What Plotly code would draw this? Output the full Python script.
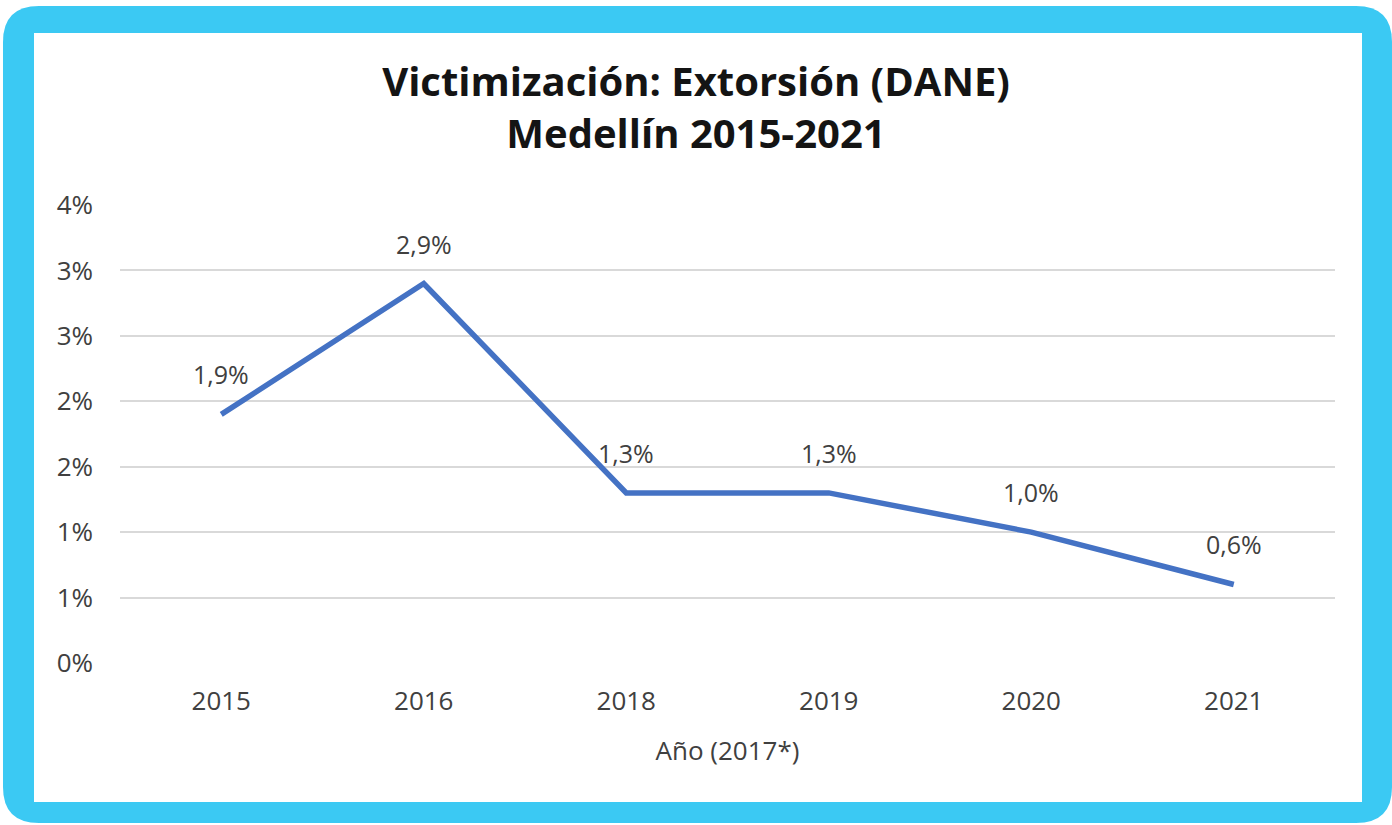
import plotly.graph_objects as go

# datos
years = ['2015', '2016', '2018', '2019', '2020', '2021']
extorsion = [0.019, 0.029, 0.013, 0.013, 0.010, 0.006]
labels = ['1,9%', '2,9%', '1,3%', '1,3%', '1,0%', '0,6%']
y_ticks = [0, 0.005, 0.01, 0.015, 0.02, 0.025, 0.03, 0.035]
y_ticktext = ['0%', '1%', '1%', '2%', '2%', '3%', '3%', '4%']

FONT = 'Open Sans'
GRAY = '#404040'
BLUE = '#4472C4'
FRAME = '#3BC9F3'

fig = go.Figure()
fig.add_trace(go.Scatter(x=years, y=extorsion, mode='lines',
                         line=dict(color=BLUE, width=5.5), showlegend=False,
                         hoverinfo='skip'))

# etiquetas de datos encima de cada punto (x por indice de categoria)
for i, (y, t) in enumerate(zip(extorsion, labels)):
    fig.add_annotation(x=i, y=y, text=t, showarrow=False, yshift=40,
                       font=dict(family=FONT, size=25, color=GRAY))

# marco azul redondeado y fondo blanco interior
r = 36
x0, y0, x1, y1 = 3, 6, 1392, 823
W, H = 1392, 825
ml, mr, mt, mb = 120, 57, 205, 162
pw, ph = W - ml - mr, H - mt - mb


def px2paper(px, py):
    return (px - ml) / pw, (H - mb - py) / ph


def rounded_path(x0, y0, x1, y1, r):
    pts = [
        ('M', x0 + r, y0), ('L', x1 - r, y0), ('Q', x1, y0, x1, y0 + r),
        ('L', x1, y1 - r), ('Q', x1, y1, x1 - r, y1), ('L', x0 + r, y1),
        ('Q', x0, y1, x0, y1 - r), ('L', x0, y0 + r), ('Q', x0, y0, x0 + r, y0),
    ]
    out = ''
    for p in pts:
        cmd, coords = p[0], p[1:]
        s = []
        for i in range(0, len(coords), 2):
            a, b = px2paper(coords[i], coords[i + 1])
            s.append(f'{a:.5f},{b:.5f}')
        out += cmd + ' '.join(s) + ' '
    return out + 'Z'


fig.add_shape(type='path', xref='paper', yref='paper', layer='below',
              path=rounded_path(x0, y0, x1, y1, r), fillcolor=FRAME, line_width=0)
ix0, iy0 = px2paper(34, 33)
ix1, iy1 = px2paper(1362, 802)
fig.add_shape(type='rect', xref='paper', yref='paper', layer='below',
              x0=ix0, y0=iy1, x1=ix1, y1=iy0, fillcolor='white', line_width=0)

fig.update_layout(
    width=W, height=H,
    margin=dict(l=ml, r=mr, t=mt, b=mb),
    paper_bgcolor='white', plot_bgcolor='rgba(0,0,0,0)',
    title=dict(text='<b>Victimización: Extorsión (DANE)</b><br><b>Medellín 2015-2021</b>',
               x=0.5, xanchor='center', y=1 - 96 / H, yanchor='middle',
               font=dict(family=FONT, size=40, color='#141414')),
    font=dict(family=FONT, color=GRAY),
)
fig.update_xaxes(type='category', range=[-0.5, 5.5], showgrid=False,
                 showline=False, zeroline=False, ticks='', ticklabelstandoff=20,
                 tickfont=dict(size=26, color=GRAY),
                 title=dict(text='Año (2017*)', standoff=24,
                            font=dict(size=26, color=GRAY)))
fig.update_yaxes(range=[0, 0.035], tickvals=y_ticks, ticktext=y_ticktext,
                 showgrid=True, gridcolor='#D9D9D9', gridwidth=2,
                 zeroline=False, showline=False, ticks='', ticklabelstandoff=26,
                 tickfont=dict(size=26, color=GRAY))

fig.write_html('out.html', config={'displayModeBar': False},
               post_script="document.body.style.margin='0';")
